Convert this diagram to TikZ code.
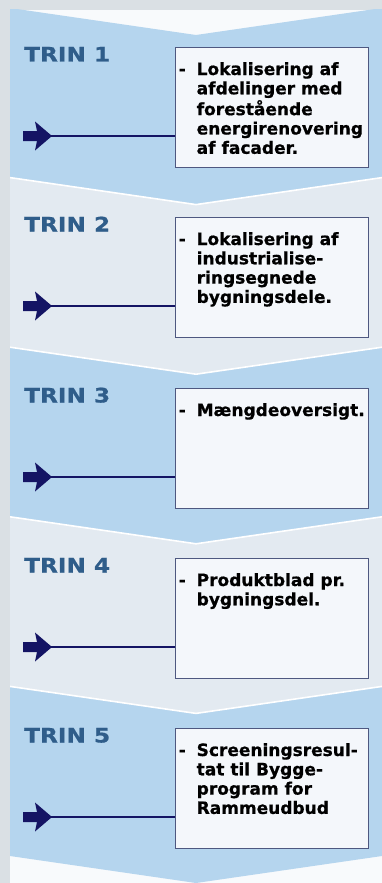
\documentclass[tikz,border=0pt]{standalone}
\usepackage{graphicx}
\usepackage{fontspec}
\setmainfont{DejaVu Sans}[BoldFeatures={FakeBold=0.7}]
\definecolor{framegray}{RGB}{218,224,228}
\definecolor{bandblue}{RGB}{181,213,238}
\definecolor{bandlight}{RGB}{227,234,241}
\definecolor{wedgewhite}{RGB}{248,250,252}
\definecolor{boxfill}{RGB}{244,247,251}
\definecolor{boxline}{RGB}{78,88,128}
\definecolor{trinblue}{RGB}{47,93,138}
\definecolor{navyblue}{RGB}{20,20,100}
\newcommand\trinstep[3]{%
  \pgfmathsetmacro\bt{#2}%
  \pgfmathsetmacro\ac{#2+89}%
  \node[stepbox] (box#1) at (175,\bt) {};
  \node[trin] (trin#1) at (24,\bt+14.5) {\scalebox{1.16}[1]{TRIN #1}};
  \node[boxtext] (text#1) at (178.5,\bt+28) {\begin{tabular}[t]{@{}l@{}l@{}}#3\end{tabular}};
  \fill[blockarrow] (23,\ac-5) -- (37,\ac-5) -- (35,\ac-14.5) -- (52,\ac) -- (35,\ac+14.5) -- (37,\ac+5) -- (23,\ac+5) -- cycle;
  \coordinate (tip#1) at (49,\ac);
  \draw[connector] (tip#1) -- (tip#1 -| box#1.west);
}
\begin{document}
\begin{tikzpicture}[x=1pt,y=-1pt,
  stepbox/.style={draw=boxline,fill=boxfill,line width=1.1pt,minimum width=193pt,minimum height=120pt,inner sep=0pt,anchor=north west},
  trin/.style={text=trinblue,font=\fontsize{20}{22}\selectfont\bfseries,anchor=base west,inner sep=0pt},
  boxtext/.style={font=\fontsize{17}{19.3}\selectfont\bfseries,anchor=base west,inner sep=0pt,text=black},
  connector/.style={draw=navyblue,line width=2.4pt},
  blockarrow/.style={fill=navyblue},
  sep/.style={draw=white,line width=1.6pt}]
\useasboundingbox (0,0) rectangle (382,883);
\fill[framegray] (0,0) rectangle (382,883);
\fill[wedgewhite] (10,10) rectangle (382,883);
\foreach \k/\col in {0/bandblue,1/bandlight,2/bandblue,3/bandlight,4/bandblue} {
  \pgfmathsetmacro\t{8+169.6*\k}
  \fill[\col] (10,\t) -- (196,\t+27) -- (382,\t) -- (382,\t+169.6) -- (196,\t+196.6) -- (10,\t+169.6) -- cycle;
}
\foreach \k in {1,2,3,4} {
  \pgfmathsetmacro\t{8+169.6*\k}
  \draw[sep] (10,\t) -- (196,\t+27) -- (382,\t);
}
\fill[framegray] (0,0) rectangle (382,9);
\fill[framegray] (0,0) rectangle (10,883);
\trinstep{1}{47}{\makebox[18pt][l]{-} & Lokalisering af\\ & afdelinger med\\ & forestående\\ & energirenovering\\ & af facader.}
\trinstep{2}{217}{\makebox[18pt][l]{-} & Lokalisering af\\ & industrialise-\\ & ringsegnede\\ & bygningsdele.}
\trinstep{3}{388}{\makebox[18pt][l]{-} & Mængdeoversigt.}
\trinstep{4}{558}{\makebox[18pt][l]{-} & Produktblad pr.\\ & bygningsdel.}
\trinstep{5}{728}{\makebox[18pt][l]{-} & Screeningsresul-\\ & tat til Bygge-\\ & program for\\ & Rammeudbud}
\end{tikzpicture}
\end{document}
